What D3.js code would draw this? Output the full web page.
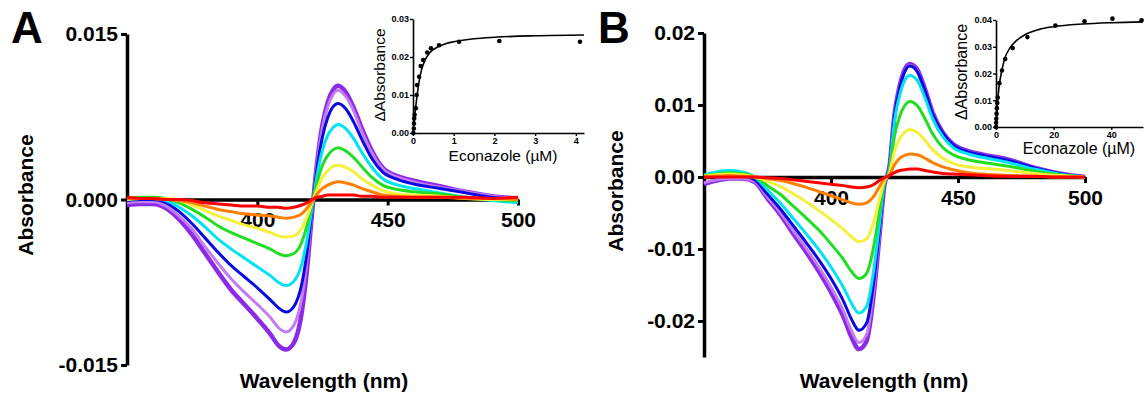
<!DOCTYPE html>
<meta charset="utf-8">
<head>
<title>Econazole binding spectra</title>
<script src="https://cdn.jsdelivr.net/npm/d3@7"></script>
<style>
  body { margin: 0; background: #fff; }
  svg { font-family: "Liberation Sans", Arial, sans-serif; }
</style>
</head>
<body>
<script>

// wavelengths (nm) the spectra were read at
var wl = [350,355,360,365,370,375,380,385,390,395,400,405,408,411,414,417,419,421,423,425,427,429,431,434,437,440,444,448,454,460,470,480,490,500]

// panel A difference spectra (absorbance), highest titration first
var aPurple = [-0.0005,-0.0004,-0.0004,-0.0008,-0.0018,-0.0032,-0.0049,-0.0066,-0.0082,-0.0095,-0.0108,-0.0122,-0.0132,-0.0136,-0.0130,-0.0103,-0.0065,-0.0012,0.0035,0.0068,0.0088,0.0099,0.0103,0.0097,0.0083,0.0065,0.0044,0.0029,0.0021,0.0017,0.0012,0.0007,0.0003,0.0001]
var aLilac = [-0.0003,-0.0002,-0.0002,-0.0006,-0.0015,-0.0027,-0.0043,-0.0058,-0.0072,-0.0084,-0.0095,-0.0107,-0.0116,-0.0120,-0.0114,-0.0090,-0.0057,-0.0010,0.0034,0.0065,0.0084,0.0095,0.0099,0.0093,0.0080,0.0062,0.0042,0.0028,0.0020,0.0016,0.0011,0.0007,0.0003,0.0001]
var aBlue = [-0.0001,0.0000,0.0000,-0.0003,-0.0011,-0.0022,-0.0035,-0.0048,-0.0060,-0.0070,-0.0080,-0.0091,-0.0098,-0.0102,-0.0097,-0.0077,-0.0049,-0.0009,0.0030,0.0057,0.0074,0.0084,0.0087,0.0082,0.0070,0.0055,0.0037,0.0025,0.0018,0.0014,0.0010,0.0006,0.0002,0.0000]
var aCyan = [0.0000,0.0001,0.0001,-0.0001,-0.0007,-0.0015,-0.0025,-0.0036,-0.0045,-0.0053,-0.0061,-0.0069,-0.0075,-0.0078,-0.0074,-0.0059,-0.0037,-0.0007,0.0023,0.0045,0.0058,0.0065,0.0068,0.0064,0.0055,0.0043,0.0029,0.0019,0.0013,0.0010,0.0006,0.0002,-0.0001,-0.0003]
var aGreen = [0.0001,0.0002,0.0002,0.0001,-0.0003,-0.0009,-0.0016,-0.0024,-0.0030,-0.0035,-0.0040,-0.0045,-0.0049,-0.0051,-0.0049,-0.0039,-0.0024,-0.0004,0.0016,0.0031,0.0040,0.0045,0.0047,0.0044,0.0038,0.0030,0.0020,0.0013,0.0009,0.0007,0.0005,0.0002,0.0000,-0.0001]
var aYellow = [0.0000,0.0001,0.0001,0.0001,-0.0001,-0.0005,-0.0010,-0.0015,-0.0019,-0.0023,-0.0026,-0.0030,-0.0033,-0.0034,-0.0033,-0.0026,-0.0016,-0.0003,0.0010,0.0020,0.0026,0.0030,0.0031,0.0029,0.0025,0.0019,0.0013,0.0008,0.0005,0.0004,0.0003,0.0001,0.0000,0.0000]
var aOrange = [0.0001,0.0001,0.0001,0.0000,-0.0001,-0.0003,-0.0006,-0.0009,-0.0011,-0.0013,-0.0014,-0.0015,-0.0016,-0.0017,-0.0016,-0.0013,-0.0008,-0.0002,0.0005,0.0010,0.0013,0.0015,0.0016,0.0015,0.0013,0.0010,0.0007,0.0004,0.0003,0.0002,0.0002,0.0001,0.0001,0.0000]
var aRed = [0.0002,0.0001,0.0001,0.0000,0.0000,-0.0001,-0.0003,-0.0004,-0.0005,-0.0006,-0.0006,-0.0007,-0.0007,-0.0008,-0.0007,-0.0005,-0.0003,0.0000,0.0002,0.0003,0.0004,0.0004,0.0004,0.0004,0.0004,0.0003,0.0003,0.0002,0.0002,0.0002,0.0002,0.0002,0.0001,0.0002]

// panel B difference spectra
var bPurple = [-0.0010,-0.0005,-0.0002,-0.0002,-0.0007,-0.0030,-0.0052,-0.0078,-0.0103,-0.0130,-0.0160,-0.0195,-0.0222,-0.0239,-0.0228,-0.0158,-0.0085,-0.0012,0.0014,0.0087,0.0126,0.0149,0.0157,0.0149,0.0122,0.0090,0.0062,0.0046,0.0036,0.0031,0.0024,0.0013,0.0005,0.0000]
var bLilac = [-0.0008,-0.0004,-0.0002,-0.0002,-0.0006,-0.0028,-0.0049,-0.0074,-0.0098,-0.0124,-0.0153,-0.0187,-0.0213,-0.0230,-0.0219,-0.0152,-0.0082,-0.0011,0.0012,0.0086,0.0124,0.0147,0.0155,0.0147,0.0120,0.0089,0.0061,0.0045,0.0035,0.0030,0.0023,0.0013,0.0005,0.0000]
var bBlue = [0.0000,0.0002,0.0003,0.0002,-0.0004,-0.0024,-0.0044,-0.0067,-0.0090,-0.0114,-0.0141,-0.0173,-0.0197,-0.0213,-0.0203,-0.0141,-0.0076,-0.0010,0.0012,0.0085,0.0123,0.0146,0.0154,0.0146,0.0120,0.0088,0.0061,0.0045,0.0035,0.0030,0.0023,0.0013,0.0005,0.0000]
var bCyan = [0.0003,0.0007,0.0009,0.0007,0.0000,-0.0018,-0.0036,-0.0057,-0.0078,-0.0100,-0.0125,-0.0154,-0.0175,-0.0189,-0.0180,-0.0125,-0.0067,-0.0009,0.0011,0.0078,0.0113,0.0134,0.0141,0.0134,0.0110,0.0081,0.0056,0.0041,0.0032,0.0027,0.0020,0.0011,0.0004,0.0000]
var bGreen = [0.0002,0.0004,0.0006,0.0005,0.0000,-0.0012,-0.0024,-0.0040,-0.0056,-0.0073,-0.0093,-0.0115,-0.0131,-0.0141,-0.0134,-0.0093,-0.0050,-0.0007,0.0008,0.0057,0.0084,0.0099,0.0105,0.0099,0.0081,0.0060,0.0041,0.0031,0.0024,0.0020,0.0015,0.0008,0.0003,0.0000]
var bYellow = [0.0001,0.0003,0.0004,0.0003,0.0000,-0.0006,-0.0013,-0.0023,-0.0034,-0.0046,-0.0059,-0.0073,-0.0083,-0.0090,-0.0086,-0.0060,-0.0032,-0.0005,0.0005,0.0036,0.0053,0.0062,0.0066,0.0062,0.0051,0.0038,0.0026,0.0019,0.0014,0.0012,0.0009,0.0005,0.0002,0.0000]
var bOrange = [0.0000,0.0001,0.0002,0.0001,0.0000,-0.0002,-0.0005,-0.0009,-0.0014,-0.0020,-0.0026,-0.0032,-0.0036,-0.0038,-0.0036,-0.0026,-0.0014,-0.0002,0.0003,0.0017,0.0026,0.0030,0.0032,0.0031,0.0026,0.0020,0.0014,0.0010,0.0006,0.0004,0.0002,0.0001,0.0000,0.0000]
var bRed = [0.0000,0.0000,0.0000,0.0000,0.0000,-0.0001,-0.0002,-0.0004,-0.0006,-0.0008,-0.0010,-0.0012,-0.0014,-0.0015,-0.0014,-0.0010,-0.0005,-0.0001,0.0002,0.0006,0.0009,0.0010,0.0011,0.0011,0.0009,0.0007,0.0005,0.0004,0.0003,0.0002,0.0001,0.0001,0.0000,0.0000]

var lineColors = ["#8c2ae6","#c47cf5","#0a0ae0","#00e3f2","#22dd22","#f5f03a","#ff8000","#ff0000"]

// insets: titration points and fitted curve
var aConc = [0.008,0.02,0.025,0.03,0.04,0.07,0.09,0.1,0.15,0.19,0.25,0.35,0.44,0.64,1.13,2.12,4.1]
var aDelta = [0.0,0.0012,0.0025,0.0038,0.0048,0.0065,0.01,0.0126,0.0148,0.0176,0.0192,0.0212,0.0223,0.0231,0.024,0.0242,0.024]
var aFitConc = [0,0.05,0.1,0.15,0.2,0.3,0.4,0.6,0.8,1.0,1.5,2,3,4.2]
var aFitDelta = [0,0.0052,0.0098,0.0135,0.0162,0.0193,0.021,0.0226,0.0235,0.024,0.0248,0.0252,0.0256,0.0258]

var bConc = [0.0,0.05,0.1,0.2,0.3,0.45,0.6,1.16,2.08,3.2,5.8,10.9,20.6,30.7,40.4,50.5]
var bDelta = [0.0,0.0016,0.0031,0.005,0.007,0.009,0.011,0.0164,0.0211,0.0254,0.0295,0.0336,0.0379,0.0395,0.0405,0.0399]
var bFitConc = [0,0.5,1,2,3,5,7,10,15,20,30,40,51]
var bFitDelta = [0,0.0085,0.0145,0.021,0.0255,0.0298,0.0322,0.0345,0.0365,0.0375,0.0385,0.039,0.0393]

var w = 1147
var h = 402
var svg = d3.select("body").append("svg").attr("width", w).attr("height", h)

// plain hyphen for negatives, like the original figure
function hyphenFormat(spec) {
    var f = d3.format(spec)
    return function(d) { return f(d).replace("\u2212", "-") }
}

function spectraPanel(letter, series, x, y, yTicks, fmt, opt) {
    var g = svg.append("g")
    var y0 = y(0)

    // y axis
    g.append("g")
        .attr("transform", "translate(" + x.range()[0] + ",0)")
        .call(d3.axisLeft(y).tickValues(yTicks).tickFormat(hyphenFormat(fmt)).tickSize(6).tickSizeOuter(0).tickPadding(3))
    // x axis through zero
    g.append("g")
        .attr("transform", "translate(0," + y0 + ")")
        .call(d3.axisBottom(x).tickValues([400,450,500]).tickFormat(d3.format("d")).tickSize(6).tickSizeOuter(0).tickPadding(7))
    g.selectAll(".domain").attr("stroke-width", 3.5)
    g.selectAll(".tick line").attr("stroke-width", 3)
    g.selectAll(".tick text").attr("font-size", 21).attr("font-weight", "bold").attr("fill", "#000")
        .attr("font-family", "Liberation Sans, Arial, sans-serif")

    var line = d3.line()
        .x(function(d, i) { return x(wl[i]) })
        .y(function(d) { return y(d) })
        .curve(d3.curveMonotoneX)

    g.append("g").selectAll("path")
        .data(series).enter()
        .append("path")
        .attr("d", line)
        .attr("fill", "none")
        .attr("stroke", function(d, i) { return lineColors[i] })
        .attr("stroke-width", function(d, i) { return i == 0 ? 4.5 : 3 })
        .attr("stroke-linejoin", "round")

    g.append("text").attr("x", opt.lx).attr("y", 43)
        .attr("font-size", 44).attr("font-weight", "bold").text(letter)
    g.append("text")
        .attr("transform", "translate(" + opt.ax + "," + opt.ay + ") rotate(-90)")
        .attr("text-anchor", "middle").attr("font-size", 21).attr("font-weight", "bold")
        .text("Absorbance")
    g.append("text").attr("x", opt.wx).attr("y", 388)
        .attr("text-anchor", "middle").attr("font-size", 21).attr("font-weight", "bold")
        .text("Wavelength (nm)")
}

function insetPanel(conc, delta, fitC, fitD, x, y, xTicks, yTicks, opt) {
    var g = svg.append("g")
    g.append("g")
        .attr("transform", "translate(" + x.range()[0] + ",0)")
        .call(d3.axisLeft(y).tickValues(yTicks).tickFormat(d3.format(".2f")).tickSize(3).tickSizeOuter(0).tickPadding(1))
    g.append("g")
        .attr("transform", "translate(0," + y.range()[0] + ")")
        .call(d3.axisBottom(x).tickValues(xTicks).tickFormat(d3.format("d")).tickSize(3).tickSizeOuter(0).tickPadding(2))
    g.selectAll(".domain").attr("stroke-width", 1.6)
    g.selectAll(".tick line").attr("stroke-width", 1.4)
    g.selectAll(".tick text").attr("font-size", 9).attr("font-weight", "bold").attr("fill", "#000")
        .attr("font-family", "Liberation Sans, Arial, sans-serif")

    var fit = d3.line()
        .x(function(d, i) { return x(fitC[i]) })
        .y(function(d) { return y(d) })
        .curve(d3.curveMonotoneX)
    g.append("path").datum(fitD).attr("d", fit)
        .attr("fill", "none").attr("stroke", "#000").attr("stroke-width", 1.6)

    g.selectAll("circle").data(delta).enter()
        .append("circle")
        .attr("cx", function(d, i) { return x(conc[i]) })
        .attr("cy", function(d) { return y(d) })
        .attr("r", 2.3)
        .attr("fill", "#000")

    g.append("text")
        .attr("transform", "translate(" + opt.ax + "," + opt.ay + ") rotate(-90)")
        .attr("text-anchor", "middle").attr("font-size", opt.fs).text("\u0394Absorbance")
    g.append("text").attr("x", opt.ex).attr("y", opt.ey)
        .attr("text-anchor", "middle").attr("font-size", opt.fs).text("Econazole (\u00b5M)")
}

// panel A
var xA = d3.scaleLinear().domain([350, 500]).range([127, 518])
var yA = d3.scaleLinear().domain([-0.015, 0.015]).range([365, 34])
spectraPanel("A", [aPurple, aLilac, aBlue, aCyan, aGreen, aYellow, aOrange, aRed], xA, yA,
    [-0.015, 0, 0.015], ".3f", {lx: 11, ax: 33, ay: 195, wx: 324})

// panel B
var xB = d3.scaleLinear().domain([350, 500]).range([704, 1085])
var yB = d3.scaleLinear().domain([-0.025, 0.02]).range([357, 33])
spectraPanel("B", [bPurple, bLilac, bBlue, bCyan, bGreen, bYellow, bOrange, bRed], xB, yB,
    [-0.02, -0.01, 0, 0.01, 0.02], ".2f", {lx: 598, ax: 623, ay: 191, wx: 884})

// insets
var ixA = d3.scaleLinear().domain([0, 4.2]).range([413, 584])
var iyA = d3.scaleLinear().domain([0, 0.03]).range([133, 19])
insetPanel(aConc, aDelta, aFitConc, aFitDelta, ixA, iyA, [0,1,2,3,4], [0,0.01,0.02,0.03],
    {ax: 385, ay: 75, ex: 503, ey: 161, fs: 15.5})

var ixB = d3.scaleLinear().domain([0, 51]).range([996, 1143])
var iyB = d3.scaleLinear().domain([0, 0.04]).range([127, 20])
insetPanel(bConc, bDelta, bFitConc, bFitDelta, ixB, iyB, [0,20,40], [0,0.01,0.02,0.03,0.04],
    {ax: 967, ay: 72, ex: 1079, ey: 154, fs: 16})

</script>
</body>
</html>
